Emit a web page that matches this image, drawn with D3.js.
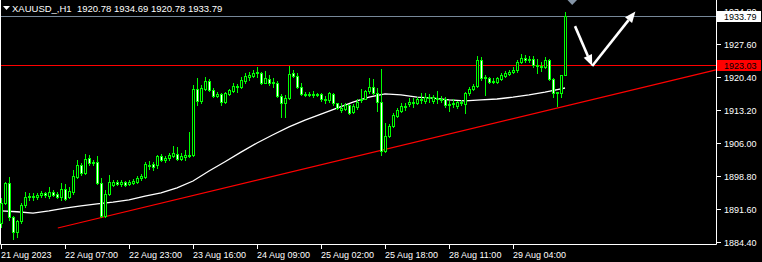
<!DOCTYPE html>
<html lang="en">
<head>
<meta charset="utf-8">
<title>XAUUSD_,H1</title>
<script src="https://cdnjs.cloudflare.com/ajax/libs/d3/7.8.5/d3.min.js"></script>
<style>
body { margin: 0; background: #000; }
svg { display: block; }
text { font-family: "Liberation Sans", Arial, sans-serif; font-size: 9px; fill: #fff; }
</style>
</head>
<body>
<script>
// H1 candles, 21 Aug 2023 -> 29 Aug 2023
var opens = [
  1888.5, 1892.9, 1897.3, 1889.9, 1886.6, 1889.0, 1892.5, 1894.2, 1894.4, 1894.2,
  1894.7, 1895.1, 1894.4, 1895.3, 1894.9, 1894.2, 1896.0, 1894.2, 1895.3, 1898.6,
  1901.2, 1899.5, 1902.7, 1901.6, 1901.9, 1897.3, 1890.1, 1894.9, 1896.8, 1897.5,
  1897.1, 1897.5, 1897.1, 1897.3, 1897.5, 1898.4, 1898.6, 1901.2, 1901.4, 1901.2,
  1903.2, 1902.3, 1902.7, 1903.2, 1903.6, 1902.5, 1902.9, 1903.4, 1903.4, 1917.8,
  1915.2, 1917.8, 1919.5, 1917.6, 1916.3, 1916.7, 1914.9, 1916.7, 1917.3, 1918.4,
  1918.2, 1919.5, 1920.4, 1920.6, 1921.3, 1921.3, 1919.1, 1920.0, 1919.1, 1919.1,
  1916.3, 1914.7, 1915.8, 1921.3, 1920.6, 1918.2, 1916.5, 1916.7, 1916.5, 1916.7,
  1916.7, 1915.6, 1915.4, 1916.7, 1914.7, 1913.2, 1913.4, 1914.3, 1912.8, 1913.9,
  1915.4, 1915.6, 1917.3, 1918.2, 1916.9, 1914.9, 1904.3, 1907.5, 1909.7, 1911.9,
  1913.0, 1913.9, 1914.5, 1914.9, 1914.7, 1915.6, 1915.2, 1916.0, 1915.2, 1915.8,
  1915.6, 1915.6, 1914.3, 1914.5, 1914.1, 1914.9, 1914.5, 1916.9, 1917.8, 1918.4,
  1924.1, 1920.2, 1920.2, 1919.3, 1919.3, 1920.0, 1920.6, 1921.1, 1921.5, 1921.9,
  1923.7, 1924.5, 1924.1, 1924.3, 1923.0, 1922.8, 1922.6, 1924.1, 1920.0, 1916.9,
  1916.9, 1920.78
];
var highs = [
  1894.0, 1897.5, 1898.6, 1890.1, 1889.2, 1892.9, 1895.3, 1895.1, 1895.1, 1895.1,
  1895.5, 1895.3, 1896.4, 1895.7, 1895.3, 1897.3, 1897.1, 1896.4, 1900.1, 1902.3,
  1901.6, 1903.6, 1903.4, 1902.3, 1903.2, 1898.4, 1895.7, 1899.0, 1897.9, 1897.9,
  1897.9, 1897.7, 1897.9, 1898.1, 1898.8, 1899.2, 1901.9, 1902.1, 1901.9, 1903.4,
  1903.6, 1903.2, 1903.8, 1905.3, 1905.1, 1903.8, 1904.5, 1908.4, 1918.7, 1920.2,
  1918.7, 1920.4, 1920.0, 1918.0, 1917.1, 1916.9, 1917.1, 1917.8, 1919.1, 1918.9,
  1920.4, 1921.3, 1921.5, 1921.9, 1922.6, 1921.5, 1921.7, 1920.8, 1920.2, 1919.5,
  1916.7, 1916.5, 1922.8, 1921.9, 1921.3, 1919.1, 1917.1, 1917.1, 1917.3, 1916.9,
  1916.9, 1916.3, 1917.1, 1916.9, 1914.7, 1914.7, 1914.7, 1914.5, 1914.5, 1915.6,
  1917.8, 1917.6, 1920.2, 1920.0, 1918.0, 1922.1, 1910.4, 1910.1, 1912.6, 1913.6,
  1914.7, 1914.7, 1915.8, 1915.8, 1916.0, 1916.9, 1916.9, 1916.7, 1916.5, 1917.3,
  1916.3, 1916.0, 1915.2, 1915.6, 1915.2, 1915.4, 1917.1, 1918.2, 1918.9, 1924.9,
  1924.8, 1920.8, 1920.4, 1920.2, 1920.4, 1921.3, 1921.7, 1921.9, 1922.6, 1924.1,
  1925.4, 1925.2, 1924.9, 1924.9, 1924.3, 1923.7, 1924.8, 1924.3, 1920.2, 1917.1,
  1920.8, 1934.69
];
var lows = [
  1887.7, 1892.7, 1889.2, 1885.1, 1885.5, 1888.5, 1892.0, 1893.6, 1893.6, 1893.8,
  1894.2, 1894.2, 1894.0, 1894.4, 1894.0, 1893.6, 1893.6, 1894.0, 1894.9, 1898.4,
  1899.0, 1899.2, 1901.2, 1901.2, 1897.1, 1889.9, 1889.9, 1894.7, 1896.6, 1896.8,
  1896.6, 1896.6, 1896.8, 1897.1, 1897.3, 1897.9, 1898.4, 1900.3, 1900.1, 1900.6,
  1902.1, 1901.9, 1902.3, 1902.9, 1902.3, 1902.3, 1902.3, 1902.9, 1903.2, 1914.3,
  1914.7, 1917.6, 1917.3, 1916.0, 1916.0, 1914.3, 1914.7, 1916.5, 1917.1, 1917.1,
  1918.0, 1919.1, 1919.7, 1920.4, 1920.4, 1918.9, 1919.1, 1918.7, 1918.2, 1916.0,
  1911.7, 1911.7, 1915.6, 1920.4, 1918.0, 1916.5, 1916.3, 1916.3, 1916.0, 1916.3,
  1915.2, 1914.7, 1914.9, 1914.3, 1913.4, 1912.8, 1913.2, 1912.3, 1912.6, 1913.4,
  1914.9, 1915.6, 1916.9, 1916.7, 1913.0, 1903.4, 1904.0, 1907.3, 1909.5, 1911.7,
  1912.8, 1913.2, 1914.1, 1913.9, 1914.5, 1914.7, 1914.7, 1914.9, 1914.7, 1914.7,
  1914.9, 1913.9, 1913.0, 1913.9, 1913.6, 1914.3, 1912.6, 1916.5, 1917.6, 1918.2,
  1919.7, 1916.5, 1919.1, 1919.1, 1919.1, 1919.7, 1920.4, 1920.8, 1921.3, 1921.5,
  1923.5, 1923.7, 1923.7, 1922.6, 1921.3, 1921.7, 1922.4, 1919.7, 1916.0, 1914.1,
  1916.0, 1920.78
];
var closes = [
  1892.9, 1897.3, 1889.9, 1886.6, 1889.0, 1892.5, 1894.2, 1894.4, 1894.2, 1894.7,
  1895.1, 1894.7, 1895.3, 1894.7, 1894.2, 1896.0, 1893.8, 1895.5, 1898.8, 1901.2,
  1899.5, 1902.5, 1901.6, 1901.9, 1897.3, 1890.1, 1894.9, 1897.5, 1897.5, 1897.1,
  1897.5, 1896.8, 1897.5, 1897.7, 1898.4, 1898.8, 1901.4, 1901.0, 1900.8, 1903.2,
  1902.3, 1902.7, 1903.4, 1903.8, 1902.5, 1903.2, 1903.4, 1903.2, 1917.8, 1915.2,
  1918.0, 1919.5, 1917.6, 1916.3, 1916.7, 1914.9, 1916.9, 1917.6, 1918.4, 1918.2,
  1919.7, 1920.6, 1920.8, 1921.3, 1921.5, 1919.1, 1920.2, 1919.1, 1919.3, 1916.3,
  1914.7, 1915.8, 1921.1, 1920.6, 1918.2, 1916.7, 1916.7, 1916.5, 1916.7, 1916.5,
  1915.6, 1915.4, 1916.9, 1914.7, 1913.6, 1913.6, 1914.3, 1912.6, 1914.1, 1914.9,
  1915.6, 1917.3, 1918.2, 1916.9, 1914.9, 1904.3, 1907.5, 1909.7, 1912.1, 1913.2,
  1914.1, 1914.1, 1914.9, 1914.7, 1915.6, 1915.4, 1916.0, 1915.8, 1916.0, 1915.6,
  1915.4, 1914.3, 1914.5, 1914.7, 1914.9, 1914.7, 1916.9, 1917.8, 1918.4, 1924.1,
  1920.2, 1920.4, 1919.3, 1919.5, 1920.2, 1920.8, 1921.3, 1921.5, 1921.9, 1923.7,
  1924.5, 1924.1, 1924.3, 1923.0, 1922.8, 1922.6, 1924.1, 1920.0, 1916.9, 1917.1,
  1920.78, 1933.79
];

// moving average (white line), read every 4th bar
var maBars = [0, 4, 8, 12, 16, 20, 24, 28, 32, 36, 40, 44, 48, 52, 56, 60, 64, 68,
  72, 76, 80, 84, 88, 92, 96, 100, 104, 108, 112, 116, 120, 124, 128, 132, 136, 140, 141];
var maValues = [1891.2, 1891.0, 1890.7, 1891.2, 1891.8, 1892.3, 1892.7, 1893.1, 1893.6,
  1894.4, 1895.1, 1896.2, 1897.7, 1899.9, 1901.9, 1904.0, 1906.0, 1907.8, 1909.5,
  1911.0, 1912.3, 1913.6, 1914.9, 1916.0, 1916.7, 1916.5, 1916.0, 1915.8, 1915.4,
  1915.2, 1915.4, 1915.6, 1916.0, 1916.5, 1917.1, 1917.8, 1918.0];

// axis
var timeTickBars = [0, 16, 32, 48, 64, 80, 96, 112, 128];
var timeTickLabels = ["21 Aug 2023", "22 Aug 07:00", "22 Aug 23:00", "23 Aug 16:00",
  "24 Aug 09:00", "25 Aug 02:00", "25 Aug 18:00", "28 Aug 11:00", "29 Aug 04:00"];
var priceTicks = [1884.40, 1891.60, 1898.80, 1906.00, 1913.20, 1920.40, 1927.60, 1934.80];

// objects on the chart
var bidPrice = 1933.79;
var hLinePrice = 1923.03;
var trendFrom = [14.2, 1887.45];
var trendTo = [141, 1914.05];
var arrowDown = [[143.5, 1931.5], [147.8, 1922.8]];
var arrowUp = [[147.8, 1922.8], [158.6, 1934.7]];
var header = "XAUUSD_,H1  1920.78 1934.69 1920.78 1933.79";

var w = 762, h = 262;
var axisX = 716, axisY = 244;

var x = d3.scaleLinear().domain([0, 141]).range([1, 565]);
var y = d3.scaleLinear().domain([1884.4, 1934.8]).range([242, 11]);
function px(i) { return Math.round(x(i)); }
function py(v) { return Math.round(y(v)); }

var svg = d3.select("body").append("svg")
  .attr("width", w)
  .attr("height", h)
  .style("background", "#000");

// frame
svg.append("path")
  .attr("d", "M0.5,0V" + (axisY + 0.5) + "H" + (axisX + 0.5) + "V0")
  .attr("fill", "none")
  .attr("stroke", "#fff");

// horizontal lines
svg.append("line")
  .attr("x1", 1).attr("x2", axisX)
  .attr("y1", py(bidPrice) + 0.5).attr("y2", py(bidPrice) + 0.5)
  .attr("stroke", "#778899");
svg.append("line")
  .attr("x1", 1).attr("x2", axisX)
  .attr("y1", py(hLinePrice) + 0.5).attr("y2", py(hLinePrice) + 0.5)
  .attr("stroke", "#ff0000");

// trend line, extended to the right edge
var tx1 = x(trendFrom[0]), ty1 = y(trendFrom[1]);
var tx2 = x(trendTo[0]), ty2 = y(trendTo[1]);
var slope = (ty2 - ty1) / (tx2 - tx1);
svg.append("line")
  .attr("x1", tx1).attr("y1", ty1)
  .attr("x2", axisX).attr("y2", ty1 + slope * (axisX - tx1))
  .attr("stroke", "#ff0000")
  .attr("stroke-width", 1.2);

// moving average
var maData = maBars.map(function(b, k) { return [b, maValues[k]]; });
svg.append("path")
  .datum(maData)
  .attr("d", d3.line().x(function(d) { return x(d[0]); }).y(function(d) { return y(d[1]); }))
  .attr("fill", "none")
  .attr("stroke", "#fff")
  .attr("stroke-width", 1.3);

// candles
var bars = d3.range(opens.length);
var g = svg.append("g");
g.selectAll("line.wick")
  .data(bars)
  .enter()
  .append("line")
  .attr("class", "wick")
  .attr("x1", function(i) { return px(i) + 0.5; })
  .attr("x2", function(i) { return px(i) + 0.5; })
  .attr("y1", function(i) { return py(highs[i]); })
  .attr("y2", function(i) { return py(lows[i]) + 1; })
  .attr("stroke", "#00ff00");
g.selectAll("rect.body")
  .data(bars)
  .enter()
  .append("rect")
  .attr("class", "body")
  .attr("x", function(i) { return px(i) - 0.5; })
  .attr("width", 2)
  .attr("y", function(i) { return py(Math.max(opens[i], closes[i])) + 0.5; })
  .attr("height", function(i) {
    return Math.max(0.01, py(Math.min(opens[i], closes[i])) - py(Math.max(opens[i], closes[i])));
  })
  .attr("fill", function(i) { return closes[i] > opens[i] ? "#000" : "#fff"; })
  .attr("stroke", "#00ff00");

// arrows
function arrow(pts) {
  var x1 = x(pts[0][0]), y1 = y(pts[0][1]), x2 = x(pts[1][0]), y2 = y(pts[1][1]);
  var dx = x2 - x1, dy = y2 - y1, len = Math.sqrt(dx * dx + dy * dy);
  var ux = dx / len, uy = dy / len;
  var hl = 11, hw = 4.5;
  var bx = x2 - ux * hl, by = y2 - uy * hl;
  svg.append("line")
    .attr("x1", x1).attr("y1", y1).attr("x2", bx).attr("y2", by)
    .attr("stroke", "#fff").attr("stroke-width", 2.6);
  svg.append("path")
    .attr("d", "M" + x2 + "," + y2 + "L" + (bx - uy * hw) + "," + (by + ux * hw) +
      "L" + (bx + uy * hw) + "," + (by - ux * hw) + "Z")
    .attr("fill", "#fff");
}
arrow(arrowDown);
arrow(arrowUp);

// chart shift marker
svg.append("path")
  .attr("d", "M567.5,0H577L572.2,5Z")
  .attr("fill", "#8494a6");

// price axis
priceTicks.forEach(function(v) {
  var yy = py(v) + 0.5;
  svg.append("line")
    .attr("x1", axisX + 1).attr("x2", axisX + 5)
    .attr("y1", yy).attr("y2", yy)
    .attr("stroke", "#fff");
  svg.append("text")
    .attr("x", 724)
    .attr("y", yy + 3.5)
    .text(v.toFixed(2));
});

// price labels
[[bidPrice, "#fff"], [hLinePrice, "#ff0000"]].forEach(function(p) {
  var yy = py(p[0]) + 0.5;
  svg.append("rect")
    .attr("x", axisX + 1).attr("y", yy - 5.5)
    .attr("width", 44).attr("height", 11)
    .attr("fill", p[1]);
  svg.append("text")
    .attr("x", 724)
    .attr("y", yy + 3.5)
    .style("fill", "#000")
    .text(p[0].toFixed(2));
});

// time axis
timeTickBars.forEach(function(b, k) {
  var xx = px(b) + 0.5;
  svg.append("line")
    .attr("x1", xx).attr("x2", xx)
    .attr("y1", axisY + 1).attr("y2", axisY + 5)
    .attr("stroke", "#fff");
  svg.append("text")
    .attr("x", px(b))
    .attr("y", 258)
    .text(timeTickLabels[k]);
});

// header
svg.append("path")
  .attr("d", "M3,6H10L6.5,10Z")
  .attr("fill", "#fff");
svg.append("text")
  .attr("x", 12)
  .attr("y", 12)
  .attr("xml:space", "preserve")
  .style("font-size", "9.5px")
  .style("white-space", "pre")
  .text(header);
</script>
</body>
</html>
